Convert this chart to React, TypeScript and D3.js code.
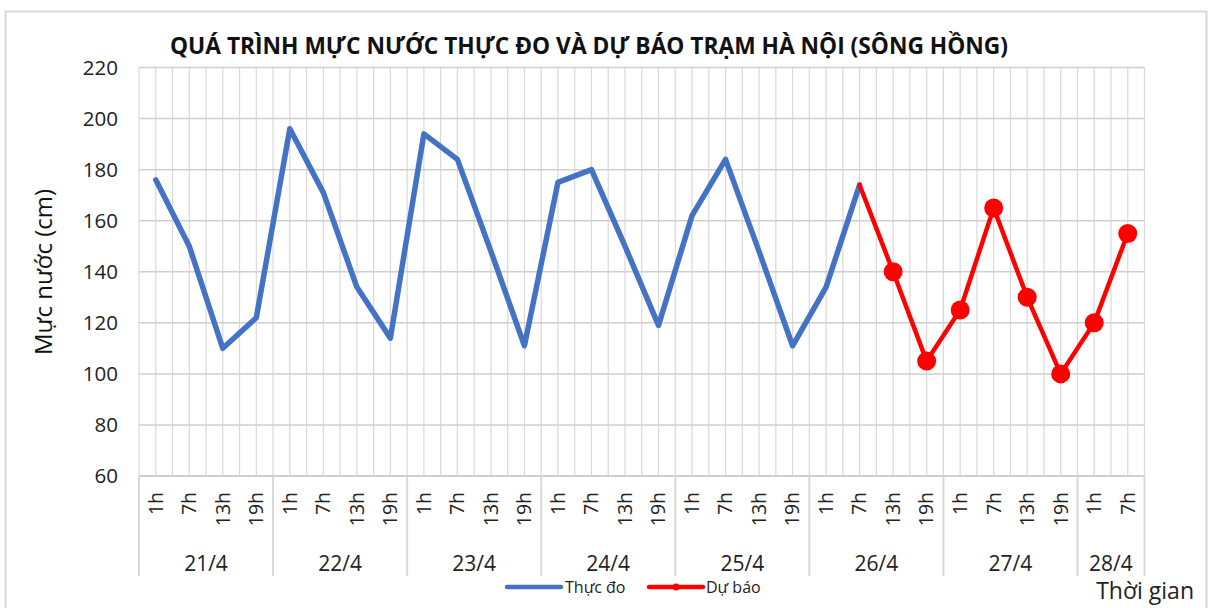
import React from 'react';
import * as d3 from 'd3';

// số liệu
const days = ['21/4', '22/4', '23/4', '24/4', '25/4', '26/4', '27/4', '28/4'];
const hours = ['1h', '7h', '13h', '19h'];
const hoursPerDay = [4, 4, 4, 4, 4, 4, 4, 2];
const yTicks = [60, 80, 100, 120, 140, 160, 180, 200, 220];

const measured = [176, 150, 110, 122, 196, 171, 134, 114, 194, 184, 148, 111, 175, 180, 150, 119, 162, 184, 148, 111, 134, 174];
// dự báo bắt đầu từ điểm đo cuối (26/4 7h)
const forecastStart = 21;
const forecast = [174, 140, 105, 125, 165, 130, 100, 120, 155];

const categories: { day: string; hour: string; key: string }[] = [];
days.forEach((day, i) => {
  hours.slice(0, hoursPerDay[i]).forEach(hour => categories.push({ day, hour, key: day + ' ' + hour }));
});

const BLUE = '#4472C4';
const RED = '#FF0000';
const GRID = '#d9d9d9';
const FONT = '"Open Sans", "Noto Sans", sans-serif';

export default function App() {
  const width = 1217;
  const height = 608;
  const margin = { top: 67.5, right: 1217 - 1144.5, bottom: 608 - 476, left: 139 };
  const innerWidth = width - margin.left - margin.right;
  const innerHeight = height - margin.top - margin.bottom;

  const xScale = d3.scaleBand<string>().domain(categories.map(d => d.key)).range([0, innerWidth]).padding(0);
  const yScale = d3.scaleLinear().domain([60, 220]).range([innerHeight, 0]);
  const step = xScale.step();
  const cx = (i: number) => (xScale(categories[i].key) as number) + step / 2;

  const measuredPath = d3.line<number>()
    .x((_, i) => cx(i))
    .y(d => yScale(d))(measured);

  const forecastPath = d3.line<number>()
    .x((_, i) => cx(forecastStart + i))
    .y(d => yScale(d))(forecast);

  // lưới dọc: mỗi nửa bước
  const vGrid = d3.range(0, categories.length * 2 + 1).map(i => (i * step) / 2);

  // ranh giới ngày
  let acc = 0;
  const dayBounds = [0];
  const dayCenters: number[] = [];
  hoursPerDay.forEach(n => {
    dayCenters.push((acc + n / 2) * step);
    acc += n;
    dayBounds.push(acc * step);
  });

  return (
    <svg width={width} height={height} style={{ display: 'block', position: 'absolute', left: 0, top: 0 }}>
      <rect x={0} y={0} width={width} height={height} fill="#fff" />
      {/* khung biểu đồ */}
      <rect x={5.5} y={11.5} width={1201} height={620} fill="none" stroke={GRID} strokeWidth={2} />

      <text x={589} y={54} textAnchor="middle" fontFamily={FONT} fontWeight={700} fontSize={23.5}
        textLength={838} lengthAdjust="spacingAndGlyphs" fill="#111">
        QUÁ TRÌNH MỰC NƯỚC THỰC ĐO VÀ DỰ BÁO TRẠM HÀ NỘI (SÔNG HỒNG)
      </text>

      <g transform={`translate(${margin.left},${margin.top})`}>
        {vGrid.map((x, i) => (
          <line key={'v' + i} x1={x} x2={x} y1={0} y2={innerHeight} stroke={GRID} strokeWidth={1.2} />
        ))}
        {yTicks.map(t => (
          <g key={t} transform={`translate(0,${yScale(t)})`}>
            <line x1={0} x2={innerWidth} stroke="#cfcfcf" strokeWidth={t === 60 ? 2 : 1.5} />
            <text x={-21} dy="0.35em" textAnchor="end" fontFamily={FONT} fontSize={20.5} fill="#222">{t}</text>
          </g>
        ))}

        {/* nhãn giờ */}
        {categories.map((c, i) => (
          <text key={c.key} transform={`translate(${cx(i)},${innerHeight + 16}) rotate(-90)`}
            textAnchor="end" dy="0.35em" fontFamily={FONT} fontSize={19.5} fill="#222">{c.hour}</text>
        ))}
        {dayBounds.map((x, i) => (
          <line key={'d' + i} x1={x} x2={x} y1={innerHeight} y2={innerHeight + 100} stroke={GRID} strokeWidth={2} />
        ))}
        {days.map((d, i) => (
          <text key={d} x={dayCenters[i]} y={innerHeight + 95} textAnchor="middle" fontFamily={FONT} fontSize={21} fill="#222">{d}</text>
        ))}

        <path d={measuredPath ?? ''} fill="none" stroke={BLUE} strokeWidth={5.5} strokeLinejoin="round" strokeLinecap="round" />
        <path d={forecastPath ?? ''} fill="none" stroke={RED} strokeWidth={4.5} strokeLinejoin="round" strokeLinecap="round" />
        {forecast.map((v, i) => i === 0 ? null : (
          <circle key={'m' + i} cx={cx(forecastStart + i)} cy={yScale(v)} r={9.5} fill={RED} />
        ))}
      </g>

      <text transform="translate(52,272) rotate(-90)" textAnchor="middle" fontFamily={FONT} fontSize={24} fill="#111">Mực nước (cm)</text>

      {/* chú thích */}
      <line x1={507} x2={561} y1={587} y2={587} stroke={BLUE} strokeWidth={4.5} strokeLinecap="round" />
      <text x={565} y={593} fontFamily={FONT} fontSize={16} fill="#222">Thực đo</text>
      <line x1={649} x2={703} y1={587} y2={587} stroke={RED} strokeWidth={4.5} strokeLinecap="round" />
      <circle cx={676} cy={587} r={3.5} fill={RED} />
      <text x={706} y={593} fontFamily={FONT} fontSize={16} fill="#222">Dự báo</text>

      <text x={1194} y={599} textAnchor="end" fontFamily={FONT} fontSize={23} fill="#222">Thời gian</text>
    </svg>
  );
}
